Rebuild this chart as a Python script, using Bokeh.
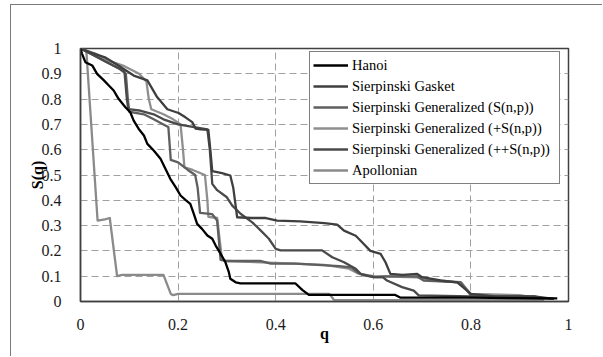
from bokeh.plotting import figure
from bokeh.models import FixedTicker, Legend, LegendItem, Range1d
from bokeh.embed import file_html
from bokeh.resources import INLINE

# ---- data ----
hanoi_q = [0.0, 0.003, 0.010, 0.024, 0.034, 0.048, 0.058, 0.068, 0.078, 0.092, 0.102, 0.109, 0.119, 0.130, 0.137,
           0.150, 0.164, 0.174, 0.184, 0.195, 0.205, 0.215, 0.225, 0.232, 0.239, 0.249, 0.260, 0.270, 0.277, 0.287,
           0.297, 0.304, 0.307, 0.318, 0.328, 0.41, 0.44, 0.455, 0.468, 0.55, 0.645, 0.656, 0.80, 0.977]
hanoi_s = [1.0, 0.98, 0.946, 0.933, 0.90, 0.874, 0.854, 0.834, 0.801, 0.768, 0.748, 0.715, 0.683, 0.656, 0.623,
           0.597, 0.564, 0.525, 0.485, 0.452, 0.419, 0.402, 0.386, 0.347, 0.307, 0.287, 0.261, 0.248, 0.221, 0.189,
           0.155, 0.116, 0.090, 0.076, 0.072, 0.072, 0.072, 0.045, 0.026, 0.026, 0.026, 0.015, 0.015, 0.012]

gasket_q = [0.0, 0.02, 0.05, 0.08, 0.109, 0.137, 0.157, 0.178, 0.201, 0.215, 0.229, 0.236, 0.246, 0.262, 0.266,
            0.27, 0.29, 0.307, 0.313, 0.321, 0.35, 0.38, 0.403, 0.45, 0.50, 0.526, 0.54, 0.564, 0.577, 0.594, 0.615,
            0.625, 0.635, 0.66, 0.69, 0.70, 0.738, 0.772, 0.80, 0.85, 0.93, 0.97]
gasket_s = [1.0, 0.985, 0.965, 0.93, 0.893, 0.874, 0.808, 0.76, 0.745, 0.728, 0.709, 0.683, 0.680, 0.678, 0.60,
            0.515, 0.507, 0.498, 0.45, 0.333, 0.33, 0.33, 0.32, 0.317, 0.31, 0.304, 0.28, 0.26, 0.234, 0.20, 0.188,
            0.155, 0.109, 0.105, 0.109, 0.096, 0.083, 0.076, 0.03, 0.02, 0.02, 0.01]

snp_q = [0.0, 0.02, 0.05, 0.08, 0.093, 0.097, 0.10, 0.13, 0.15, 0.17, 0.18, 0.185, 0.20, 0.22, 0.235, 0.24, 0.245,
         0.27, 0.28, 0.287, 0.30, 0.37, 0.39, 0.44, 0.53, 0.555, 0.567, 0.58, 0.605, 0.625, 0.69, 0.703, 0.779, 0.80,
         0.85, 0.93, 0.95]
snp_s = [1.0, 0.98, 0.95, 0.92, 0.90, 0.80, 0.75, 0.74, 0.72, 0.70, 0.69, 0.56, 0.55, 0.52, 0.50, 0.45, 0.35,
         0.345, 0.32, 0.165, 0.16, 0.16, 0.15, 0.15, 0.14, 0.135, 0.116, 0.103, 0.096, 0.099, 0.099, 0.083, 0.076,
         0.024, 0.02, 0.02, 0.01]

psnp_q = [0.0, 0.03, 0.06, 0.09, 0.12, 0.135, 0.14, 0.145, 0.17, 0.19, 0.205, 0.21, 0.213, 0.23, 0.255, 0.26,
          0.262, 0.28, 0.29, 0.30, 0.37, 0.44, 0.50, 0.55, 0.57, 0.60, 0.69, 0.72, 0.78, 0.80, 0.90, 0.93]
psnp_s = [1.0, 0.98, 0.95, 0.93, 0.90, 0.87, 0.80, 0.76, 0.74, 0.72, 0.70, 0.60, 0.53, 0.52, 0.50, 0.40,
          0.335, 0.33, 0.165, 0.16, 0.155, 0.15, 0.145, 0.13, 0.11, 0.10, 0.095, 0.085, 0.075, 0.03, 0.025, 0.015]

ppsnp_q = [0.0, 0.03, 0.06, 0.09, 0.095, 0.098, 0.12, 0.15, 0.17, 0.20, 0.23, 0.26, 0.265, 0.27, 0.28, 0.30,
           0.311, 0.328, 0.352, 0.369, 0.386, 0.40, 0.41, 0.495, 0.516, 0.54, 0.564, 0.574, 0.60, 0.62, 0.628,
           0.659, 0.683, 0.693, 0.80, 0.97]
ppsnp_s = [1.0, 0.97, 0.94, 0.91, 0.80, 0.76, 0.755, 0.74, 0.72, 0.70, 0.69, 0.68, 0.60, 0.465, 0.44, 0.412,
           0.379, 0.347, 0.313, 0.281, 0.248, 0.208, 0.202, 0.202, 0.175, 0.155, 0.129, 0.109, 0.096, 0.095, 0.083,
           0.057, 0.043, 0.024, 0.02, 0.01]

apol_q = [0.0, 0.012, 0.035, 0.05, 0.06, 0.075, 0.085, 0.17, 0.185, 0.19, 0.20, 0.51, 0.52, 0.95]
apol_s = [1.0, 0.99, 0.32, 0.325, 0.33, 0.10, 0.105, 0.105, 0.03, 0.025, 0.03, 0.03, 0.005, 0.005]

series_names = ["Hanoi", "Sierpinski Gasket", "Sierpinski Generalized (S(n,p))",
                "Sierpinski Generalized (+S(n,p))", "Sierpinski Generalized (++S(n,p))", "Apollonian"]
series_colors = ["#000000", "#3f3f3f", "#5f5f5f", "#8f8f8f", "#4a4a4a", "#8a8a8a"]

x_ticks = [0, 0.2, 0.4, 0.6, 0.8, 1.0]
x_tick_labels = ["0", "0.2", "0.4", "0.6", "0.8", "1"]
y_ticks = [0, 0.1, 0.2, 0.3, 0.4, 0.5, 0.6, 0.7, 0.8, 0.9, 1.0]
y_tick_labels = ["0", "0.1", "0.2", "0.3", "0.4", "0.5", "0.6", "0.7", "0.8", "0.9", "1"]

SERIF = "'Liberation Serif', 'DejaVu Serif', serif"

# outer frame of the chart: the figure is offset by a margin and given a left/top border
p = figure(width=592, height=352, output_backend="svg", toolbar_location=None,
           x_range=Range1d(0, 1), y_range=Range1d(0, 1),
           min_border_left=69, min_border_right=35, min_border_top=43, min_border_bottom=56,
           margin=(4, 0, 0, 10),
           styles={"border-left": "1px solid #7a7a7a", "border-top": "1px solid #7a7a7a"})
p.background_fill_color = "white"
p.border_fill_color = "white"
p.outline_line_color = "#404040"
p.outline_line_width = 1.5

# grid
p.xgrid.ticker = FixedTicker(ticks=x_ticks)
p.ygrid.ticker = FixedTicker(ticks=y_ticks)
for g in (p.xgrid, p.ygrid):
    g.grid_line_color = "#a0a0a0"
    g.grid_line_dash = "7 4"
    g.grid_line_width = 1

# axes
p.xaxis.ticker = FixedTicker(ticks=x_ticks)
p.yaxis.ticker = FixedTicker(ticks=y_ticks)
p.xaxis.major_label_overrides = {t: l for t, l in zip(x_ticks, x_tick_labels)}
p.yaxis.major_label_overrides = {t: l for t, l in zip(y_ticks, y_tick_labels)}
for ax in (p.xaxis, p.yaxis):
    ax.axis_line_color = "#404040"
    ax.axis_line_width = 1.5
    ax.major_tick_line_color = None
    ax.minor_tick_line_color = None
    ax.major_label_text_font = SERIF
    ax.major_label_text_font_size = "16px"
    ax.major_label_text_color = "#1a1a1a"
    ax.axis_label_text_font = SERIF
    ax.axis_label_text_font_style = "bold"
    ax.axis_label_text_font_size = "16px"
    ax.axis_label_text_color = "#000000"
p.xaxis.major_label_standoff = 11
p.yaxis.major_label_standoff = 13
p.xaxis.axis_label = "q"
p.yaxis.axis_label = "S(q)"
p.xaxis.axis_label_standoff = -8
p.yaxis.axis_label_standoff = -7

data = [(hanoi_q, hanoi_s), (gasket_q, gasket_s), (snp_q, snp_s),
        (psnp_q, psnp_s), (ppsnp_q, ppsnp_s), (apol_q, apol_s)]
order = [5, 3, 2, 4, 1, 0]  # draw lighter ones first, Hanoi on top
rmap = {}
for i in order:
    q, s = data[i]
    rmap[i] = p.line(q, s, line_color=series_colors[i], line_width=2.3, line_join="round")

items = [LegendItem(label=series_names[i], renderers=[rmap[i]]) for i in range(6)]
legend = Legend(items=items, location=(229, 117))
legend.label_text_font = SERIF
legend.label_text_font_size = "14.5px"
legend.label_text_color = "#000000"
legend.glyph_width = 35
legend.glyph_height = 20
legend.label_height = 20
legend.label_width = 204
legend.spacing = 1
legend.padding = 3
legend.label_standoff = 4
legend.border_line_color = "black"
legend.border_line_width = 1.5
legend.background_fill_color = "white"
legend.background_fill_alpha = 1
p.add_layout(legend, "center")

open("out.html", "w").write(file_html(p, INLINE))
